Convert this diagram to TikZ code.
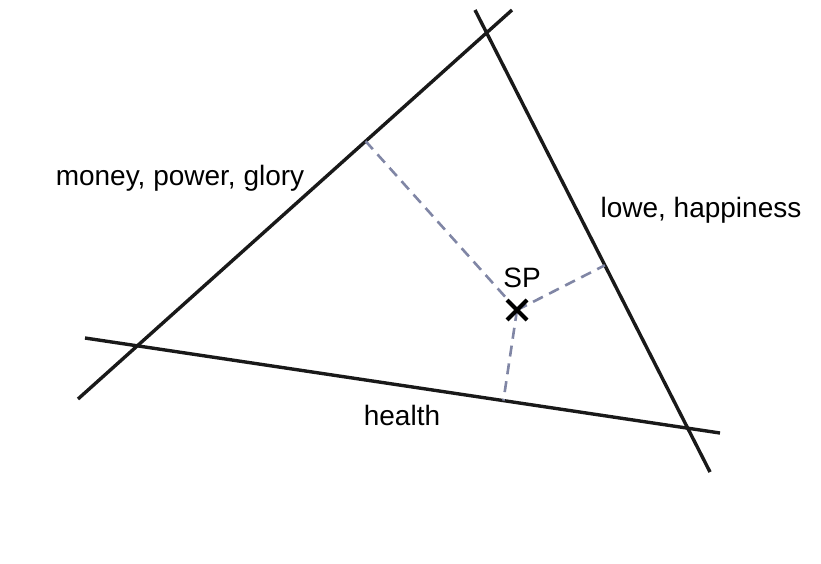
\documentclass[tikz,border=0pt]{standalone}
\usepackage{fontspec}
\setmainfont{Liberation Sans}
\usetikzlibrary{calc,shapes.misc}
\definecolor{dashgrey}{RGB}{128,134,165}
\tikzset{
	axisline/.style={line width=3.4pt,black!90},
	footline/.style={line width=2.6pt,color=dashgrey,dash pattern=on 11pt off 7pt},
	lbl/.style={font=\fontsize{28}{32}\selectfont,anchor=base,inner sep=0pt}
}
\begin{document}
\begin{tikzpicture}[x=1pt,y=-1pt]
	\useasboundingbox (0,0) rectangle (821,563);
	% ends of the three lines
	\coordinate (mA) at (78,399);
	\coordinate (mB) at (512,10);
	\coordinate (lA) at (475,10);
	\coordinate (lB) at (710,472);
	\coordinate (hA) at (85,338);
	\coordinate (hB) at (720,433);
	\coordinate (spc) at (517,310);
	\draw[axisline] (mA) -- (mB);
	\draw[axisline] (lA) -- (lB);
	\draw[axisline] (hA) -- (hB);
	% the point and its distances to the lines
	\draw[footline] (spc) -- ($(mA)!(spc)!(mB)$);
	\draw[footline] (spc) -- ($(lA)!(spc)!(lB)$);
	\draw[footline] (spc) -- ($(hA)!(spc)!(hB)$);
	\node[cross out,draw,line width=4pt,minimum size=16pt,inner sep=0pt] (sp) at (spc) {};
	\node[lbl] (splbl) at (522,287) {SP};
	\node[lbl] (money) at (180,185) {money, power, glory};
	\node[lbl] (love) at (701,217) {lowe, happiness};
	\node[lbl] (health) at (402,425) {health};
\end{tikzpicture}
\end{document}
